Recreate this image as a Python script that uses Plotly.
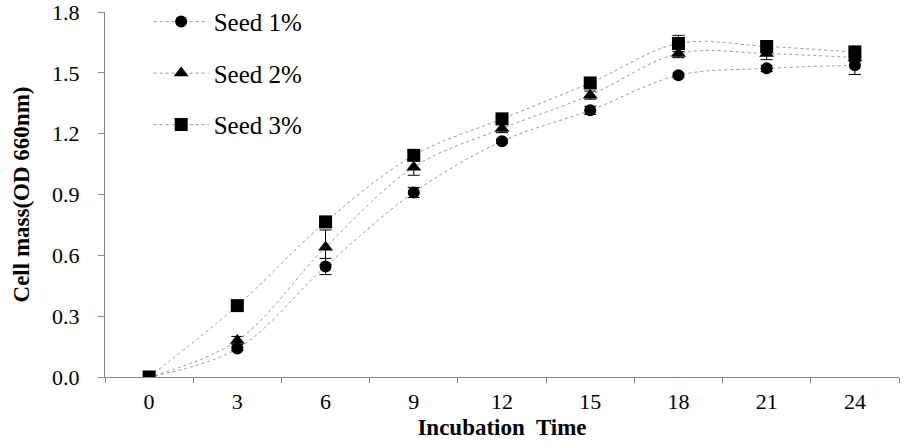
import plotly.graph_objects as go

time_labels = ["0", "3", "6", "9", "12", "15", "18", "21", "24"]
seed1 = [0.0, 0.14, 0.545, 0.91, 1.163, 1.315, 1.488, 1.522, 1.537]
seed2 = [0.0, 0.18, 0.64, 1.035, 1.225, 1.39, 1.595, 1.595, 1.575]
seed3 = [0.0, 0.352, 0.765, 1.093, 1.273, 1.45, 1.645, 1.63, 1.602]
err1 = [0.0, 0.01, 0.04, 0.025, 0.01, 0.02, 0.01, 0.015, 0.045]
err2 = [0.0, 0.02, 0.085, 0.04, 0.02, 0.02, 0.02, 0.03, 0.02]
err3 = [0.0, 0.01, 0.02, 0.02, 0.02, 0.02, 0.04, 0.02, 0.03]
names = ["Seed 1%", "Seed 2%", "Seed 3%"]
symbols = ["circle", "triangle-up", "square"]
sizes = [12, 13, 13]

FONT = "Liberation Serif"
AXIS_COLOR = "#868686"

fig = go.Figure()

series = [seed1, seed2, seed3]
errors = [err1, err2, err3]

# error bars (drawn first, behind the markers)
for ys, es in zip(series, errors):
    fig.add_trace(go.Scatter(
        x=time_labels, y=ys, mode="markers",
        marker=dict(size=1, opacity=0),
        error_y=dict(type="data", array=es, visible=True, color="black", thickness=1, width=6),
        showlegend=False, hoverinfo="skip",
    ))

for i, (ys, name) in enumerate(zip(series, names)):
    fig.add_trace(go.Scatter(
        x=time_labels, y=ys, mode="lines+markers", name=name,
        legendgroup=name,
        line=dict(shape="spline", smoothing=1.0, color="#9a9a9a", width=1, dash="dot"),
        marker=dict(symbol=symbols[i], size=sizes[i], color="black"),
    ))

fig.update_layout(
    width=906, height=443, autosize=False,
    margin=dict(l=105, r=7, t=12, b=66, autoexpand=False),
    paper_bgcolor="white", plot_bgcolor="white",
    font=dict(family=FONT, color="black", size=22),
    showlegend=True,
    legend=dict(
        x=0.055, y=1.036, xanchor="left", yanchor="top",
        bgcolor="rgba(0,0,0,0)", font=dict(family=FONT, size=25, color="black"),
        tracegroupgap=16, itemwidth=55,
    ),
    xaxis=dict(
        type="category", categoryorder="array", categoryarray=time_labels,
        range=[-0.5, 8.5], automargin=False,
        showline=True, linecolor=AXIS_COLOR, linewidth=1,
        ticks="outside", ticklen=5, tickcolor=AXIS_COLOR, tickwidth=1,
        tickson="boundaries", showgrid=False, zeroline=False,
        tickfont=dict(family=FONT, size=22, color="black"),
        ticklabelstandoff=5, ticklabeloverflow="allow",
        title=dict(text="<b>Incubation  Time</b>", font=dict(family=FONT, size=23, color="black"), standoff=5),
    ),
    yaxis=dict(
        range=[0, 1.8], dtick=0.3, tick0=0, tickformat=".1f", automargin=False,
        showline=True, linecolor=AXIS_COLOR, linewidth=1,
        ticks="outside", ticklen=6, tickcolor=AXIS_COLOR, tickwidth=1,
        showgrid=False, zeroline=False,
        tickfont=dict(family=FONT, size=22, color="black"),
        ticklabelstandoff=14, ticklabeloverflow="allow",
        title=dict(text="<b>Cell mass(OD 660nm)</b>", font=dict(family=FONT, size=23, color="black"), standoff=16),
    ),
)

fig.write_html("out.html")
